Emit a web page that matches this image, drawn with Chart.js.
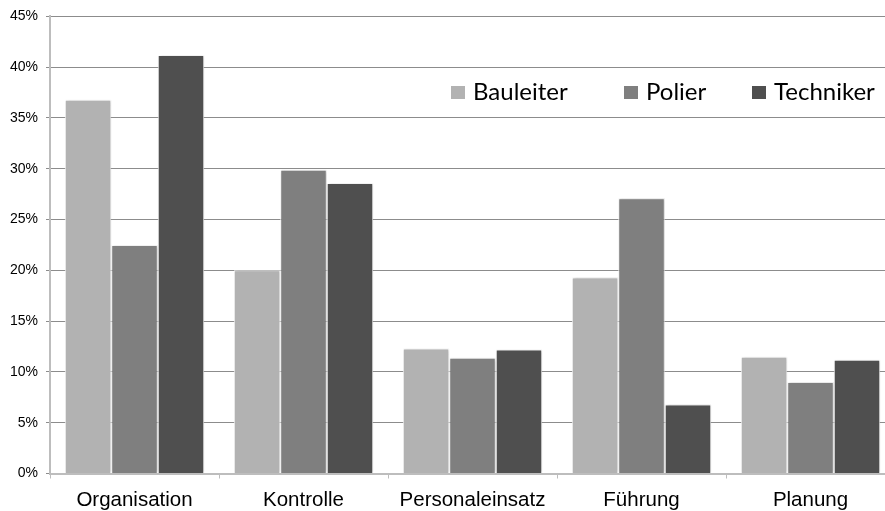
<!DOCTYPE html>
<html>
<head>
<meta charset="utf-8">
<script src="https://cdn.jsdelivr.net/npm/chart.js@4/dist/chart.umd.min.js"></script>
<style>
  html, body { margin: 0; padding: 0; background: #fff; overflow: hidden; }
  #wrap { width: 910px; height: 511px; }
</style>
</head>
<body>
<div id="wrap"><canvas id="chart1" width="910" height="511"></canvas></div>
<script>
  // Data
  const categories = ['Organisation', 'Kontrolle', 'Personaleinsatz', 'Führung', 'Planung'];
  const bauleiter = [36.8, 20.0, 12.3, 19.3, 11.5];
  const polier = [22.5, 29.9, 11.4, 27.1, 9.0];
  const techniker = [41.2, 28.6, 12.2, 6.8, 11.2];
  const yTicks = [0, 5, 10, 15, 20, 25, 30, 35, 40, 45];

  // soft shadow behind the bars
  const barShadow = {
    id: 'barShadow',
    beforeDatasetsDraw(chart) {
      const ctx = chart.ctx;
      ctx.save();
      ctx.shadowColor = 'rgba(0,0,0,0.22)';
      ctx.shadowBlur = 3;
      ctx.shadowOffsetX = 1;
      ctx.shadowOffsetY = 0;
    },
    afterDatasetsDraw(chart) {
      chart.ctx.restore();
    }
  };

  // legend drawn inside the plot area
  const innerLegend = {
    id: 'innerLegend',
    afterDraw(chart) {
      const ctx = chart.ctx;
      const xs = [451, 624, 752];
      const y = 92;
      ctx.save();
      ctx.font = '24px Lato, "Open Sans", sans-serif';
      ctx.textBaseline = 'middle';
      chart.data.datasets.forEach((ds, i) => {
        ctx.fillStyle = ds.backgroundColor;
        ctx.fillRect(xs[i], y - 6, 14, 13);
        ctx.fillStyle = '#000';
        ctx.fillText(ds.label, xs[i] + 22, y);
      });
      ctx.restore();
    }
  };

  const chartConfig = {
    type: 'bar',
    data: {
      labels: categories,
      datasets: [
        { label: 'Bauleiter', data: bauleiter, backgroundColor: '#b2b2b2' },
        { label: 'Polier', data: polier, backgroundColor: '#7f7f7f' },
        { label: 'Techniker', data: techniker, backgroundColor: '#4f4f4f' },
      ],
    },
    options: {
      responsive: false,
      animation: false,
      layout: { padding: { top: 16, right: 15, left: 0, bottom: 0 } },
      datasets: {
        bar: {
          categoryPercentage: 0.825,
          barPercentage: 1,
          borderColor: '#ffffff',
          borderWidth: 1,
        },
      },
      plugins: {
        legend: { display: false },
        tooltip: { enabled: false },
      },
      scales: {
        x: {
          grid: {
            display: true,
            drawOnChartArea: false,
            drawTicks: true,
            tickLength: 5,
            color: '#bdbdbd',
            offset: true,
          },
          border: { color: '#bdbdbd', width: 2 },
          ticks: {
            color: '#000',
            padding: 10,
            font: { family: '"Liberation Sans", Arial, sans-serif', size: 20.5 },
            maxRotation: 0,
          },
          afterFit(scale) { scale.height = 37.5; },
        },
        y: {
          min: 0,
          max: 45,
          afterBuildTicks(scale) { scale.ticks = yTicks.map(v => ({ value: v })); },
          grid: { color: '#8c8c8c', lineWidth: 1, tickLength: 4 },
          border: { color: '#bdbdbd', width: 2 },
          ticks: {
            color: '#000',
            padding: 8,
            font: { family: '"Liberation Sans", Arial, sans-serif', size: 14 },
            callback: v => v + '%',
          },
          afterFit(scale) { scale.width = 50; },
        },
      },
    },
    plugins: [barShadow, innerLegend],
  };

  const ctx1 = document.getElementById('chart1').getContext('2d');
  new Chart(ctx1, chartConfig);
</script>
</body>
</html>
